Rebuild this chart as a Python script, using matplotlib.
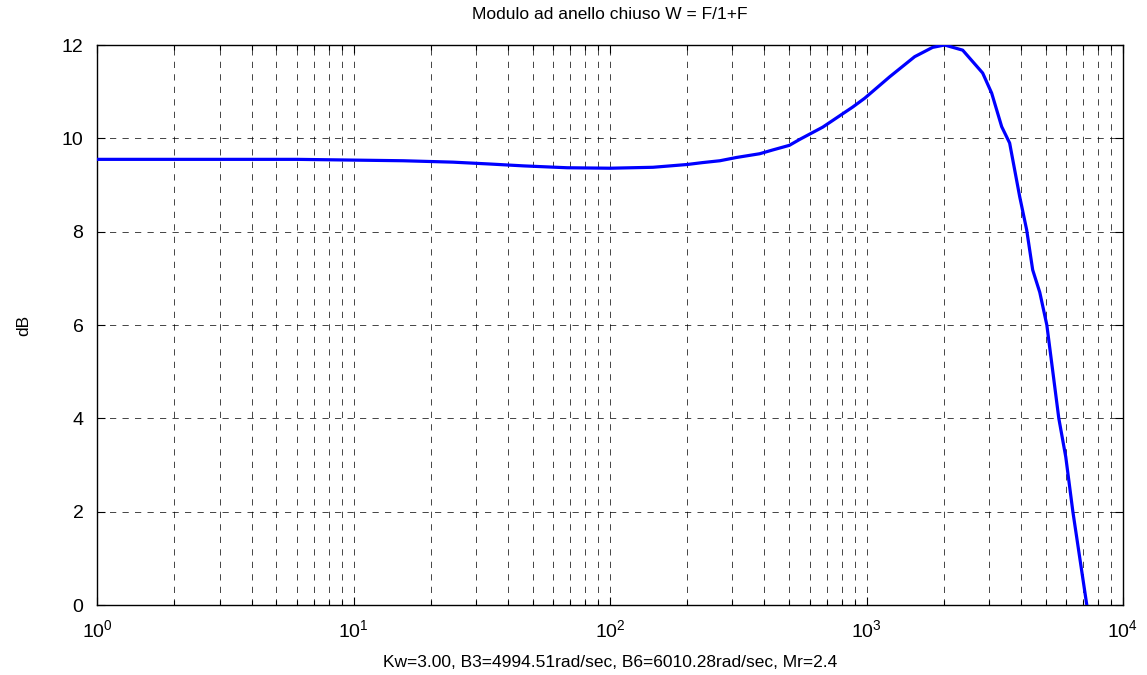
import numpy as np
import matplotlib
matplotlib.use("Agg")
import matplotlib.pyplot as plt
from matplotlib.ticker import LogLocator, NullFormatter

plt.rcParams["font.family"] = ["Liberation Sans", "DejaVu Sans"]
plt.rcParams["mathtext.fontset"] = "custom"
plt.rcParams["mathtext.rm"] = "Liberation Sans"
plt.rcParams["lines.scale_dashes"] = False

# closed-loop magnitude (rad/sec, dB)
freq = [1, 6, 15.6, 24.4, 34, 46, 68, 100, 147, 200, 229, 268, 311, 383,
        430, 500, 550, 675, 883, 984, 1232, 1541, 1811, 2018, 2372, 2838,
        3077, 3367, 3616, 3958, 4213, 4448, 4740, 5050, 5623, 5987, 6380,
        7230]
mag_db = [9.55, 9.55, 9.52, 9.49, 9.45, 9.41, 9.37, 9.36, 9.38, 9.44,
          9.48, 9.52, 9.59, 9.67, 9.75, 9.85, 9.98, 10.24, 10.67, 10.86,
          11.32, 11.75, 11.95, 12.0, 11.89, 11.4, 10.97, 10.25, 9.9, 8.75,
          8.04, 7.18, 6.7, 6.0, 4.0, 3.17, 2.0, 0.0]
y_ticks = [0, 2, 4, 6, 8, 10, 12]
title = "Modulo ad anello chiuso W = F/1+F"
x_label = "Kw=3.00, B3=4994.51rad/sec, B6=6010.28rad/sec, Mr=2.4"

fig = plt.figure(figsize=(11.47, 6.75), dpi=100)
ax = fig.add_axes([0.0848, 0.1037, 0.8942, 0.8296])

ax.semilogx(freq, mag_db, color=(0, 0, 1), lw=2.3, zorder=3)
ax.set_xlim(1, 1e4)
ax.set_ylim(0, 12)
ax.set_yticks(y_ticks)
ax.xaxis.set_major_locator(LogLocator(base=10, numticks=10))
ax.xaxis.set_minor_locator(LogLocator(base=10, subs=np.arange(2, 10),
                                      numticks=100))
ax.xaxis.set_minor_formatter(NullFormatter())

grid_kw = dict(color="black", lw=0.6, ls=(0, (4.5, 4.5)), alpha=0.85)
ax.grid(True, which="major", axis="both", **grid_kw)
ax.grid(True, which="minor", axis="x", **grid_kw)

ax.tick_params(which="both", direction="in", top=True, right=True,
               labelsize=14, width=0.8)
ax.tick_params(which="major", length=6)
ax.tick_params(which="minor", length=3.5)
ax.tick_params(axis="x", pad=10)
ax.tick_params(axis="y", pad=10)
for sp in ax.spines.values():
    sp.set_linewidth(1.0)

ax.set_title(title, fontsize=12.5, pad=19)
ax.set_xlabel(x_label, fontsize=12.5, labelpad=10)
ax.set_ylabel("dB", fontsize=12.5, labelpad=22)

fig.savefig("out.png", dpi=100)
